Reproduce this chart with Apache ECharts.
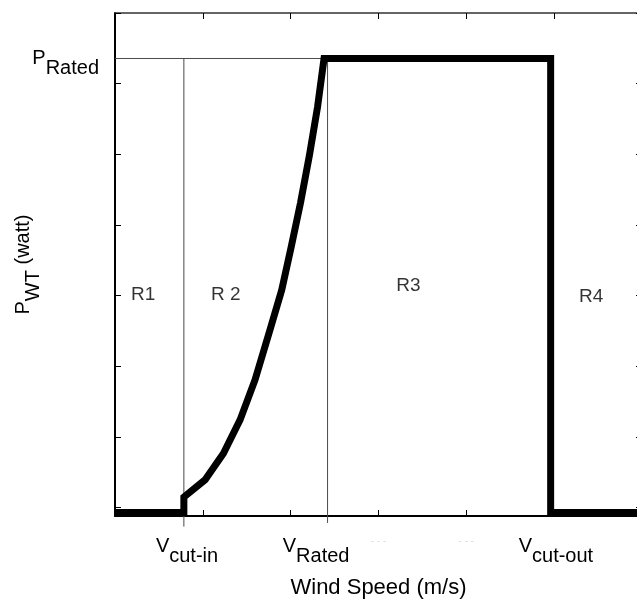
<!DOCTYPE html>
<html>
<head>
<meta charset="utf-8">
<script src="https://cdn.jsdelivr.net/npm/echarts@6/dist/echarts.min.js"></script>
<style>
  html, body { margin: 0; padding: 0; background: #fff; }
  #chart { width: 637px; height: 602px; }
</style>
</head>
<body>
<div id="chart"></div>
<script>
// Wind turbine power curve with its four operating regions.
// Wind speed in m/s, power normalised to the rated power.
const vCutIn = 3.92;
const vRated = 12.1;
const vCutOut = 24.8;
const pRated = 1.0;

// Ramp between cut-in and rated speed
const rampSpeed = [3.92, 3.92, 5.13, 6.17, 7.12, 7.97, 8.82, 9.49, 10.02, 10.56, 11.07, 11.53, 11.9];
const rampPower = [0, 0.034, 0.072, 0.130, 0.204, 0.292, 0.402, 0.490, 0.583, 0.682, 0.787, 0.893, 1.0];

// Axis extents and tick labels
const speedMin = 0, speedMax = 30, speedStep = 5;
const speedTickNames = ['cut-in', 'Rated', 'cut-out'];
const speedTickAt = [4.1, 11.45, 25.1];
const ghostTicks = [15, 20];

// Region annotations
const regionNames = ['R1', 'R 2', 'R3', 'R4'];
const regionSpeed = [1.6, 6.3, 16.7, 27.1];
const regionPower = [0.48, 0.48, 0.50, 0.475];

const FONT = "'Liberation Sans', Arial, Helvetica, sans-serif";

// Full curve: zero below cut-in, ramp, rated plateau, zero after cut-out
const curve = [[speedMin, 0]];
rampSpeed.forEach((v, i) => curve.push([v, rampPower[i]]));
curve.push([vCutOut, pRated], [vCutOut, 0], [speedMax, 0]);

const guideColor = '#4a4a4a';
const subRich = {
  v: { fontFamily: FONT, fontSize: 20, lineHeight: 40, color: '#000', verticalAlign: 'middle' },
  s: { fontFamily: FONT, fontSize: 20, lineHeight: 20, color: '#000', verticalAlign: 'bottom' }
};

const chart = echarts.init(document.getElementById('chart'), null, { renderer: 'canvas' });

chart.setOption({
  animation: false,
  backgroundColor: '#fff',
  grid: { left: 115, right: -5, top: 13, bottom: 86, containLabel: false, outerBoundsMode: 'none' },
  xAxis: [
    { // data axis with bottom frame line
      type: 'value', position: 'bottom', min: speedMin, max: speedMax, interval: speedStep,
      axisLine: { show: true, onZero: false, lineStyle: { color: '#000', width: 2 } },
      axisTick: { show: true, inside: true, length: 6, lineStyle: { color: '#000', width: 1 } },
      splitLine: { show: false },
      axisLabel: {
        show: true, margin: 20, color: '#dcdcdc', fontSize: 10, fontFamily: FONT,
        formatter: v => (ghostTicks.indexOf(v) >= 0 ? '- - -' : '')
      },
      name: 'Wind Speed (m/s)', nameLocation: 'middle', nameGap: 61,
      nameTextStyle: { fontFamily: FONT, fontSize: 22, color: '#000' }
    },
    { // top frame
      type: 'value', position: 'top', min: speedMin, max: speedMax, interval: speedStep,
      axisLine: { show: true, onZero: false, lineStyle: { color: '#333', width: 1.5 } },
      axisTick: { show: true, inside: true, length: 6, lineStyle: { color: '#000', width: 1 } },
      axisLabel: { show: false }, splitLine: { show: false }
    },
    { // named speeds under the axis
      type: 'value', position: 'bottom', min: speedMin, max: speedMax,
      axisLine: { show: false }, axisTick: { show: false }, splitLine: { show: false },
      axisLabel: {
        show: true, margin: 10, customValues: speedTickAt,
        formatter: v => {
          let k = 0;
          speedTickAt.forEach((t, i) => { if (Math.abs(t - v) < Math.abs(speedTickAt[k] - v)) k = i; });
          return '{v|V}{s|' + speedTickNames[k] + '}';
        },
        rich: subRich
      }
    }
  ],
  yAxis: [
    { // power axis used by the data
      type: 'value', position: 'left', min: -0.0077, max: 1.1002,
      axisLine: { show: false }, axisTick: { show: false }, splitLine: { show: false },
      axisLabel: {
        show: true, margin: 16, customValues: [pRated],
        formatter: () => '{v|P}{s|Rated}', rich: subRich
      }
    },
    { // left frame with tick marks
      type: 'value', position: 'left', inverse: true, min: 0, max: 7.118, interval: 1,
      axisLine: { show: true, onZero: false, lineStyle: { color: '#000', width: 2 } },
      axisTick: { show: true, inside: true, length: 6, lineStyle: { color: '#000', width: 1 } },
      axisLabel: { show: false }, splitLine: { show: false },
      name: '{v|P}{s|WT}{v| (watt)}', nameLocation: 'middle', nameRotate: 90, nameGap: 72,
      nameTextStyle: { rich: subRich }
    },
    { // right frame with tick marks
      type: 'value', position: 'right', inverse: true, min: 0, max: 7.118, interval: 1,
      axisLine: { show: true, onZero: false, lineStyle: { color: '#000', width: 2 } },
      axisTick: { show: true, inside: true, length: 6, lineStyle: { color: '#000', width: 1 } },
      axisLabel: { show: false }, splitLine: { show: false }
    }
  ],
  series: [
    { // rated-power guide
      type: 'line', xAxisIndex: 0, yAxisIndex: 0, symbol: 'none', clip: false, silent: true,
      lineStyle: { color: guideColor, width: 1 },
      data: [[speedMin, pRated], [vRated, pRated]]
    },
    { // cut-in guide
      type: 'line', xAxisIndex: 0, yAxisIndex: 0, symbol: 'none', clip: false, silent: true,
      lineStyle: { color: guideColor, width: 1 },
      data: [[vCutIn, pRated], [vCutIn, -0.031]]
    },
    { // rated-speed guide
      type: 'line', xAxisIndex: 0, yAxisIndex: 0, symbol: 'none', clip: false, silent: true,
      lineStyle: { color: guideColor, width: 1 },
      data: [[vRated, pRated], [vRated, -0.023]]
    },
    { // power curve
      type: 'line', xAxisIndex: 0, yAxisIndex: 0, symbol: 'none', clip: true, silent: true,
      lineStyle: { color: '#000', width: 7, join: 'miter', cap: 'butt' },
      data: curve
    },
    { // region names
      type: 'scatter', xAxisIndex: 0, yAxisIndex: 0, symbolSize: 0, silent: true,
      label: {
        show: true, position: 'inside', formatter: '{b}',
        fontFamily: FONT, fontSize: 19, color: '#000'
      },
      data: regionNames.map((n, i) => ({ name: n, value: [regionSpeed[i], regionPower[i]] }))
    }
  ]
});
</script>
</body>
</html>
